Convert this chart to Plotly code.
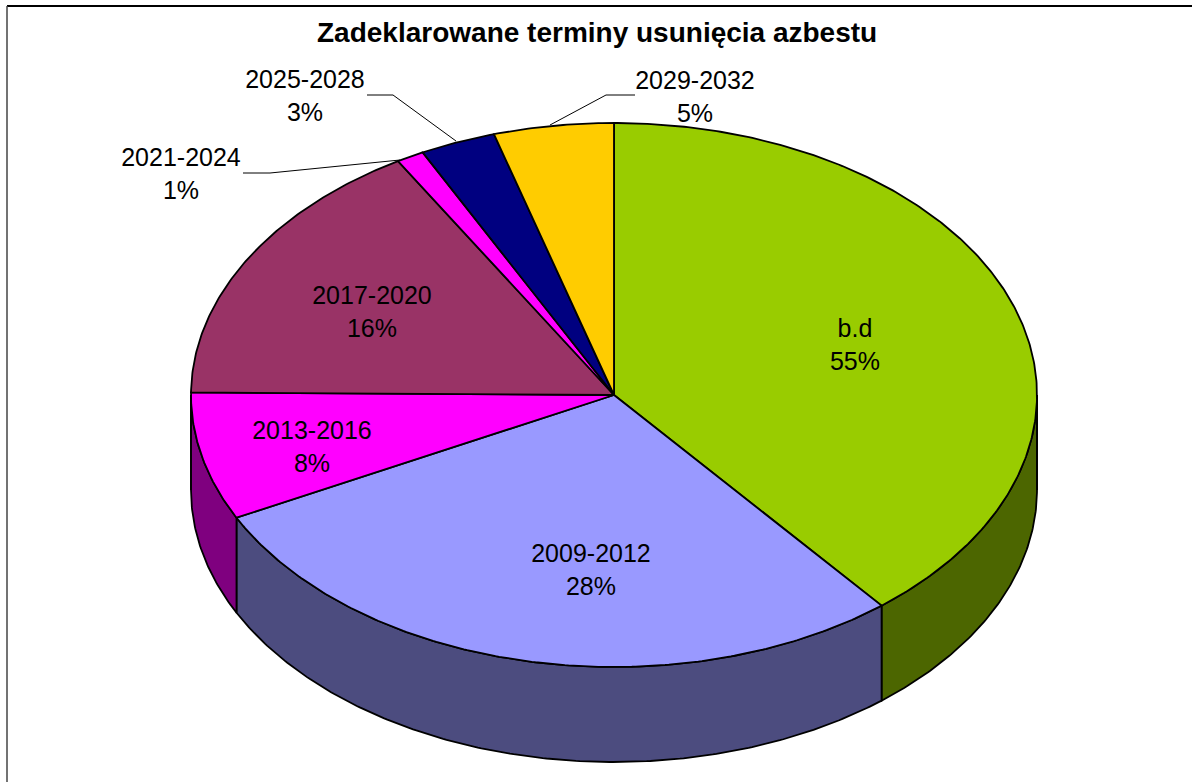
import numpy as np
import plotly.graph_objects as go

categories = ["b.d", "2009-2012", "2013-2016", "2017-2020", "2021-2024", "2025-2028", "2029-2032"]
# Slice sizes as drawn in the picture (the b.d slice is drawn smaller than its label says)
drawn_shares = [39.1, 28.45, 7.6, 16.32, 1.06, 2.89, 4.58]
# Percent labels as printed
printed_percent = [55, 28, 8, 16, 1, 3, 5]
colors = ["#99CC00", "#9999FF", "#FF00FF", "#993366", "#FF00FF", "#000080", "#FFCC00"]

W, H = 1192, 782
CX, CY, RX, RY, DEPTH = 614, 395, 423, 272, 95
FONT = "Liberation Sans, Arial, sans-serif"
LABEL_SIZE = 25
label_x = [855, 591, 312, 372, 181, 305, 695]
label_y = [347, 572, 449, 314, 176, 98, 99]


def shade(hexcolor):
    r, g, b = (int(hexcolor[i:i + 2], 16) for i in (1, 3, 5))
    return f"rgb({r // 2},{g // 2},{b // 2})"


def rim(a0, a1, dy=0):
    t = np.radians(np.linspace(a0, a1, max(int(abs(a1 - a0) * 2), 2)))
    return CX + RX * np.sin(t), CY + dy - RY * np.cos(t)


edges = np.cumsum([0] + drawn_shares) / sum(drawn_shares) * 360
fig = go.Figure()
LINE = dict(color="black", width=1.8)

# side walls (front half of the disc only)
for i, c in enumerate(colors):
    a0, a1 = max(edges[i], 90), min(edges[i + 1], 270)
    if a1 <= a0:
        continue
    x0, y0 = rim(a0, a1)
    x1, y1 = rim(a1, a0, DEPTH)
    fig.add_trace(go.Scatter(
        x=np.r_[x0, x1, x0[0]], y=np.r_[y0, y1, y0[0]], mode="lines",
        fill="toself", fillcolor=shade(c), line=LINE, hoverinfo="skip"))

# silhouette verticals at the widest points of the disc
for a in (90, 270):
    x0, y0 = rim(a, a + 0.01)
    fig.add_trace(go.Scatter(x=[x0[0], x0[0]], y=[y0[0], y0[0] + DEPTH], mode="lines",
                             line=LINE, hoverinfo="skip"))

# top face
for i, c in enumerate(colors):
    x, y = rim(edges[i], edges[i + 1])
    fig.add_trace(go.Scatter(
        x=np.r_[CX, x, CX], y=np.r_[CY, y, CY], mode="lines",
        fill="toself", fillcolor=c, line=LINE, hoverinfo="skip"))

fig.add_trace(go.Scatter(
    x=label_x, y=label_y, mode="text",
    text=[f"{n}<br>{p}%" for n, p in zip(categories, printed_percent)],
    textposition="middle center",
    textfont=dict(family=FONT, size=LABEL_SIZE, color="black"), hoverinfo="skip"))

leader = dict(color="black", width=1)
shapes = [
    dict(type="path", path="M367,95 L393,95 L456,141", line=leader),
    dict(type="path", path="M243,173 L270,173 L400,160", line=leader),
    dict(type="path", path="M635,95 L606,95 L550,125", line=leader),
    dict(type="line", x0=7, x1=W, y0=6, y1=6, line=dict(color="black", width=2)),
    dict(type="line", x0=7, x1=7, y0=6, y1=H, line=dict(color="#444444", width=1.5)),
]

fig.update_layout(
    width=W, height=H, margin=dict(l=0, r=0, t=0, b=0),
    paper_bgcolor="white", plot_bgcolor="white", showlegend=False,
    xaxis=dict(range=[0, W], visible=False, fixedrange=True),
    yaxis=dict(range=[H, 0], visible=False, fixedrange=True),
    shapes=shapes,
    annotations=[dict(
        text="<b>Zadeklarowane terminy usunięcia azbestu</b>", x=597, y=32, xref="x", yref="y",
        showarrow=False, xanchor="center", yanchor="middle",
        font=dict(family=FONT, size=28, color="black"))],
)
fig.write_html("out.html", config={"displayModeBar": False},
               post_script="document.body.style.margin='0';document.body.style.overflow='hidden';")
